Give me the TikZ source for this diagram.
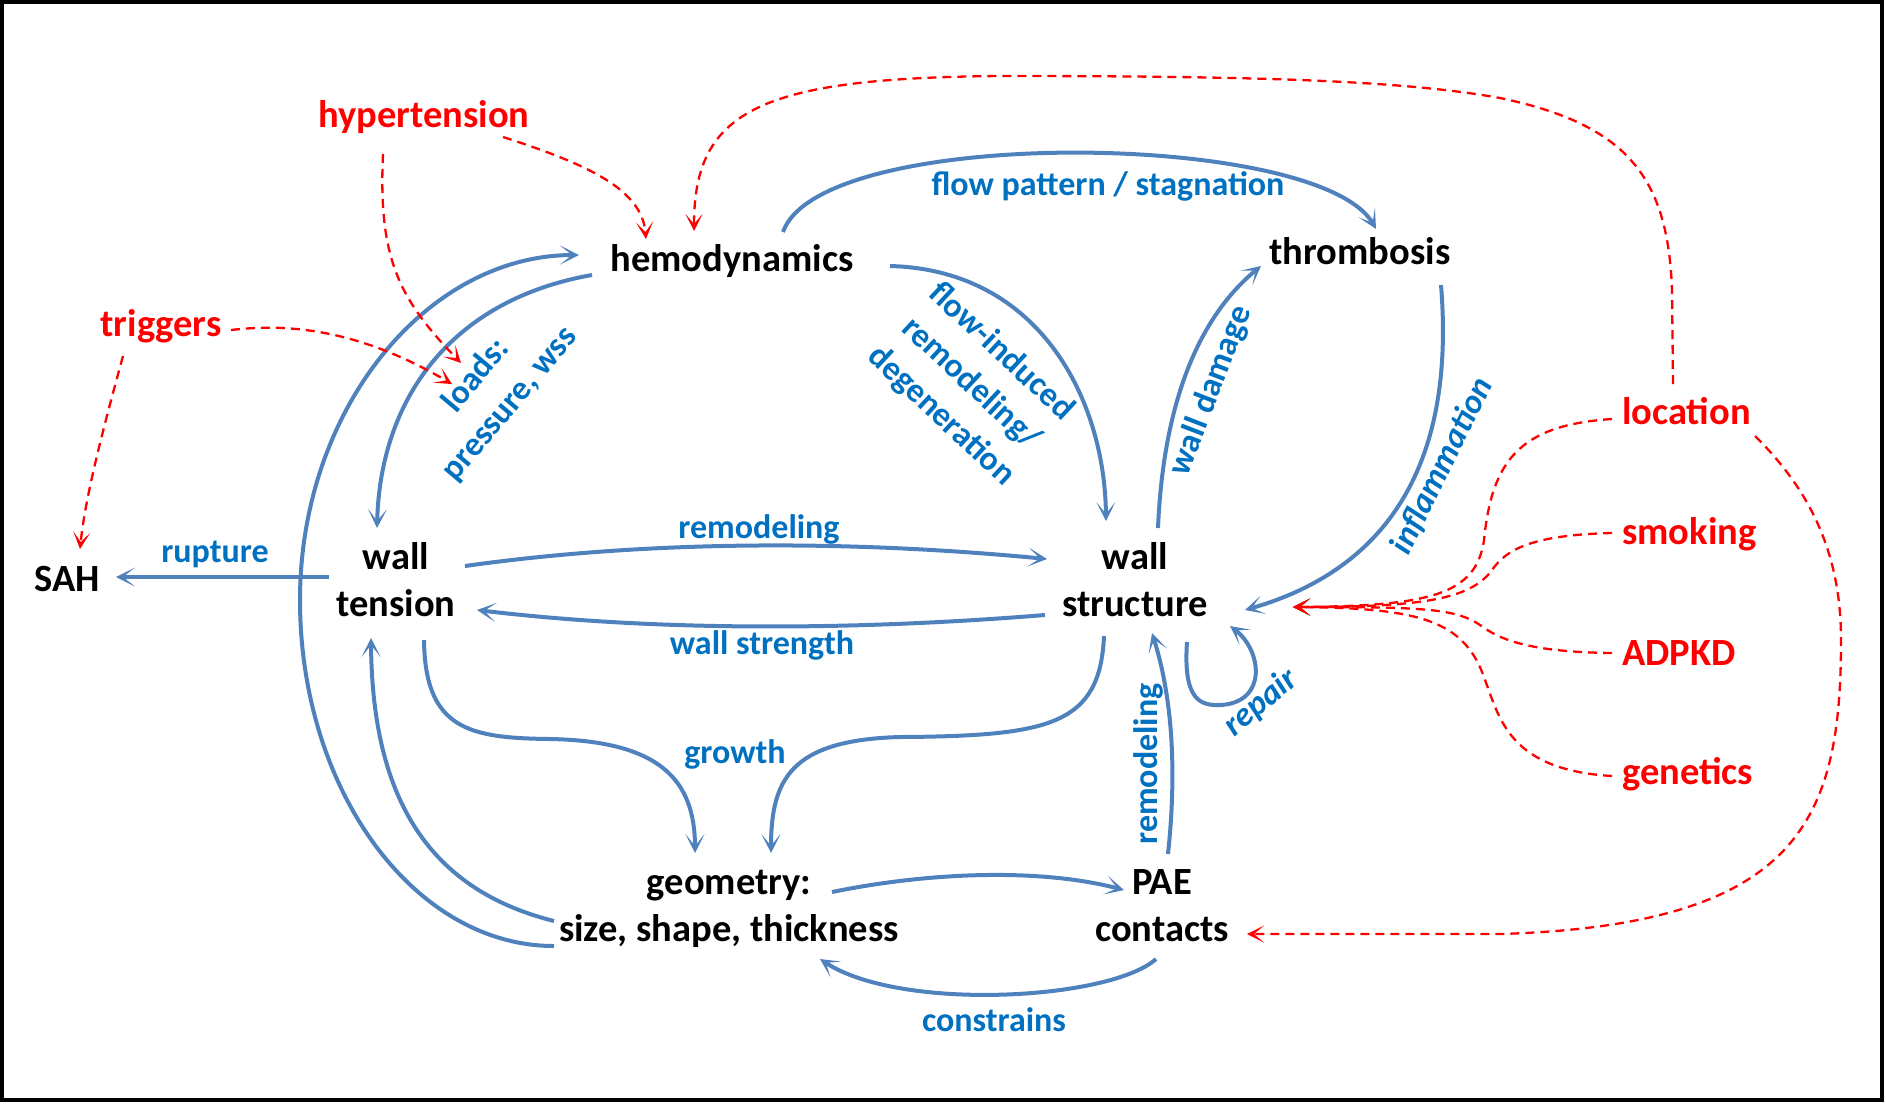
\documentclass[tikz,border=0pt]{standalone}
\usepackage{fontspec}
\setmainfont{Carlito}
\usetikzlibrary{arrows.meta}
\definecolor{arrowblue}{HTML}{4F81BD}
\definecolor{labelblue}{HTML}{0070C0}
\definecolor{riskred}{HTML}{FF0000}
\begin{document}
\begin{tikzpicture}[x=1pt,y=-1pt,
  main/.style={font=\fontsize{38.5}{47}\selectfont\bfseries, text=black, inner sep=0pt, align=center},
  risk/.style={font=\fontsize{38.5}{47}\selectfont\bfseries, text=riskred, inner sep=0pt},
  lbl/.style={font=\fontsize{34}{44}\selectfont\bfseries, text=labelblue, inner sep=0pt, align=center},
  lbli/.style={lbl, font=\fontsize{34}{44}\selectfont\bfseries\itshape},
  flow/.style={draw=arrowblue, line width=4pt, -{Stealth[length=19pt,width=19pt,inset=12pt]}},
  infl/.style={draw=riskred, line width=2.3pt, dash pattern=on 9pt off 6pt, -{Stealth[length=17pt,width=17pt,inset=10pt]}},
]
\useasboundingbox (0,0) rectangle (1886,1104);
\draw[line width=3.5pt] (2,2) rectangle (1882,1100);

% main nodes
\node[main, anchor=base] (hemo) at (732,271) {hemodynamics};
\node[main, anchor=base] (thromb) at (1360,264) {thrombosis};
\node[main] (wt) at (396,580) {wall\\tension};
\node[main] (ws) at (1135,580) {wall\\structure};
\node[main] (geo) at (729,909) {geometry:\\size, shape, thickness};
\node[main] (pae) at (1162,906) {PAE\\contacts};
\node[main, anchor=base] (sah) at (67,591) {SAH};
% risk factors
\node[risk, anchor=base] (hyp) at (424,127) {hypertension};
\node[risk, anchor=base] (trig) at (161,336) {triggers};
\node[risk, anchor=base west] (loc) at (1622,424) {location};
\node[risk, anchor=base west] (smk) at (1622,544) {smoking};
\node[risk, anchor=base west] (adpkd) at (1622,665) {ADPKD};
\node[risk, anchor=base west] (gen) at (1622,784) {genetics};
% edge labels
\node[lbl, anchor=base] (lflow) at (1108,195) {flow pattern / stagnation};
\node[lbl, anchor=base] (lrup) at (215,562) {rupture};
\node[lbl, anchor=base] (lrem) at (759,538) {remodeling};
\node[lbl, anchor=base] (lstr) at (762,654) {wall strength};
\node[lbl, anchor=base] (lgro) at (735,763) {growth};
\node[lbl, anchor=base] (lcon) at (994,1031) {constrains};
\node[lbl, rotate=50] (lloads) at (493,390) {loads:\\pressure, wss};
\node[lbl, rotate=-43] (lfi) at (971,384) {flow-induced\\remodeling/\\degeneration};
\node[lbl, rotate=69] (lwd) at (1211,391) {wall damage};
\node[lbli, rotate=64] (linf) at (1442,466) {inflammation};
\node[lbl, rotate=90] (lrem2) at (1148,764) {remodeling};
\node[lbli, rotate=40] (lrep) at (1261,703) {repair};

% connector end points
\coordinate (hemoA) at (783,232);   \coordinate (thrIn) at (1376,229);
\coordinate (hemoB) at (890,266);   \coordinate (wsTop) at (1106,521);
\coordinate (wsUp) at (1158,528);   \coordinate (thrL) at (1261,266);
\coordinate (thrB) at (1441,285);   \coordinate (wsR) at (1245,610);
\coordinate (hemoC) at (592,275);   \coordinate (wtTop) at (377,528);
\coordinate (geoA) at (554,946);    \coordinate (hemoIn) at (579,255);
\coordinate (geoB) at (554,921);    \coordinate (wtBot) at (371,638);
\coordinate (wtD) at (424,640);     \coordinate (geoInL) at (695,853);
\coordinate (wsD) at (1104,636);    \coordinate (geoInR) at (771,853);
\coordinate (wtR) at (465,566);     \coordinate (wsInL) at (1047,559);
\coordinate (wsL) at (1045,615);    \coordinate (wtInR) at (477,610);
\coordinate (wtL) at (329,577);     \coordinate (sahIn) at (116,577);
\coordinate (geoR) at (832,892);    \coordinate (paeIn) at (1124,890);
\coordinate (paeB) at (1156,959);   \coordinate (geoInB) at (820,959);
\coordinate (paeT) at (1168,854);   \coordinate (wsInB) at (1152,633);
\coordinate (wsRep) at (1187,642);  \coordinate (wsRepIn) at (1230,626);
\coordinate (hypR) at (503,137);    \coordinate (hemoRedA) at (646,239);
\coordinate (hypB) at (383,154);    \coordinate (loadsA) at (461,363);
\coordinate (trigR) at (231,330);   \coordinate (loadsB) at (452,384);
\coordinate (trigB) at (123,356);   \coordinate (sahTop) at (80,549);
\coordinate (locT) at (1673,384);   \coordinate (hemoRedB) at (694,231);
\coordinate (locL) at (1612,419);   \coordinate (wsRedIn) at (1293,607);
\coordinate (smkL) at (1612,533);
\coordinate (adpL) at (1612,653);
\coordinate (genL) at (1612,776);
\coordinate (locR) at (1755,436);   \coordinate (paeRedIn) at (1247,934);

% blue connectors
\draw[flow] (hemoA) .. controls (820,125) and (1320,130) .. (thrIn);
\draw[flow] (hemoB) .. controls (1040,270) and (1105,400) .. (wsTop);
\draw[flow] (wsUp) .. controls (1163,410) and (1195,320) .. (thrL);
\draw[flow] (thrB) .. controls (1452,420) and (1420,560) .. (wsR);
\draw[flow] (hemoC) .. controls (450,300) and (380,400) .. (wtTop);
\draw[flow] (geoA) .. controls (414,946) and (300,790) .. (300,600) .. controls (300,410) and (426,255) .. (hemoIn);
\draw[flow] (geoB) .. controls (430,890) and (372,800) .. (wtBot);
\draw[flow] (wtD) .. controls (425,730) and (470,738) .. (550,739) .. controls (660,741) and (695,780) .. (geoInL);
\draw[flow] (wsD) .. controls (1100,725) and (1050,736) .. (900,737) .. controls (790,740) and (771,780) .. (geoInR);
\draw[flow] (wtR) .. controls (650,540) and (850,540) .. (wsInL);
\draw[flow] (wsL) .. controls (860,630) and (660,632) .. (wtInR);
\draw[flow] (wtL) -- (sahIn);
\draw[flow] (geoR) .. controls (930,872) and (1040,868) .. (paeIn);
\draw[flow] (paeB) .. controls (1110,1000) and (900,1012) .. (geoInB);
\draw[flow] (paeT) .. controls (1178,760) and (1170,690) .. (wsInB);
\draw[flow] (wsRep) .. controls (1183,700) and (1200,706) .. (1221,705) .. controls (1268,702) and (1262,650) .. (wsRepIn);

% red dashed influences
\draw[infl] (hypR) .. controls (590,165) and (642,190) .. (hemoRedA);
\draw[infl] (hypB) .. controls (378,260) and (400,300) .. (loadsA);
\draw[infl] (trigR) .. controls (290,323) and (360,330) .. (loadsB);
\draw[infl] (trigB) .. controls (100,440) and (85,500) .. (sahTop);
\draw[infl] (locT) -- (1672,290) .. controls (1668,180) and (1630,125) .. (1500,98) .. controls (1400,80) and (1250,76) .. (1000,76) .. controls (760,78) and (694,110) .. (hemoRedB);
\draw[infl] (locL) .. controls (1520,425) and (1492,460) .. (1484,540) .. controls (1476,595) and (1430,606) .. (wsRedIn);
\draw[infl] (smkL) .. controls (1530,535) and (1506,550) .. (1492,570) .. controls (1470,600) and (1420,607) .. (wsRedIn);
\draw[infl] (adpL) .. controls (1530,652) and (1500,640) .. (1480,625) .. controls (1455,608) and (1420,607) .. (wsRedIn);
\draw[infl] (genL) .. controls (1510,770) and (1500,720) .. (1485,680) .. controls (1465,620) and (1420,608) .. (wsRedIn);
\draw[infl] (locR) .. controls (1815,495) and (1841,560) .. (1841,640) .. controls (1841,820) and (1800,925) .. (1500,934) -- (paeRedIn);
\end{tikzpicture}
\end{document}
